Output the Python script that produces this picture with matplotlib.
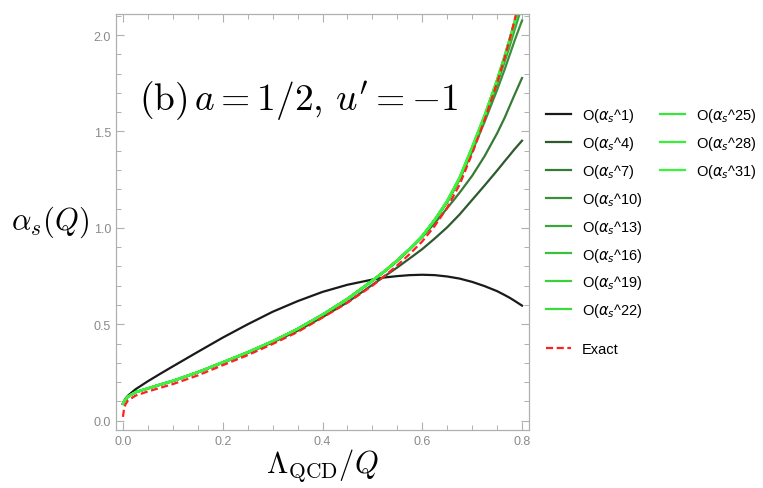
import numpy as np
import matplotlib
matplotlib.use('Agg')
import matplotlib.pyplot as plt
from matplotlib.font_manager import FontProperties
from matplotlib.ticker import MultipleLocator, FormatStrFormatter

# values
x = [0, 0.002, 0.005, 0.01, 0.025, 0.05, 0.075, 0.1, 0.15, 0.2, 0.25, 0.3, 0.35, 0.4, 0.45,
     0.5, 0.525, 0.55, 0.575, 0.6, 0.625, 0.65, 0.675, 0.7, 0.725, 0.75, 0.765, 0.775, 0.785, 0.8]

orders = [1, 4, 7, 10, 13, 16, 19, 22, 25, 28, 31]

# common low-x part of the higher orders (they overlap there)
pack_low = [0.088, 0.098, 0.110, 0.125, 0.148, 0.168, 0.188, 0.207, 0.252, 0.303, 0.355, 0.412,
            0.476, 0.550, 0.632]

a1 = [0.088, 0.100, 0.115, 0.130, 0.163, 0.205, 0.244, 0.282, 0.357, 0.431, 0.500, 0.565,
      0.620, 0.668, 0.705,
      0.732, 0.743, 0.750, 0.755, 0.757, 0.755, 0.748, 0.737, 0.720, 0.698, 0.672, 0.652,
      0.638, 0.622, 0.597]
a4 = [0.088, 0.097, 0.109, 0.124, 0.147, 0.167, 0.186, 0.205, 0.250, 0.300, 0.351, 0.406,
      0.466, 0.537, 0.614,
      0.705, 0.750, 0.795, 0.842, 0.890, 0.945, 1.003, 1.070, 1.145, 1.220, 1.297, 1.345,
      1.376, 1.408, 1.452]
a7 = pack_low + [0.724, 0.774, 0.828, 0.888, 0.952, 1.025, 1.102, 1.183, 1.270, 1.372, 1.490,
                 1.570, 1.630, 1.690, 1.777]
a10 = pack_low + [0.727, 0.777, 0.832, 0.892, 0.958, 1.040, 1.132, 1.250, 1.395, 1.550, 1.715,
                  1.820, 1.895, 1.970, 2.075]
a13 = pack_low + [0.727, 0.777, 0.832, 0.892, 0.958, 1.042, 1.135, 1.256, 1.408, 1.568, 1.745,
                  1.860, 1.940, 2.025, 2.150]
a16 = pack_low + [0.727, 0.777, 0.832, 0.892, 0.958, 1.042, 1.137, 1.258, 1.414, 1.577, 1.758,
                  1.878, 1.962, 2.050, 2.190]
a19 = pack_low + [0.727, 0.777, 0.832, 0.892, 0.958, 1.042, 1.138, 1.259, 1.415, 1.579, 1.761,
                  1.882, 1.968, 2.057, 2.198]
a22 = pack_low + [0.727, 0.777, 0.832, 0.892, 0.958, 1.042, 1.139, 1.260, 1.417, 1.581, 1.764,
                  1.886, 1.972, 2.062, 2.205]
a25 = pack_low + [0.727, 0.777, 0.832, 0.892, 0.958, 1.042, 1.140, 1.262, 1.419, 1.584, 1.768,
                  1.891, 1.978, 2.069, 2.214]
a28 = pack_low + [0.727, 0.777, 0.832, 0.892, 0.958, 1.042, 1.140, 1.262, 1.419, 1.584, 1.768,
                  1.891, 1.978, 2.069, 2.214]
a31 = pack_low + [0.727, 0.777, 0.832, 0.892, 0.958, 1.042, 1.140, 1.262, 1.419, 1.584, 1.768,
                  1.891, 1.978, 2.069, 2.214]
exact = [0.020, 0.060, 0.085, 0.105, 0.130, 0.152, 0.171, 0.190, 0.235, 0.288, 0.340, 0.398,
         0.460, 0.535, 0.612,
         0.700, 0.752, 0.806, 0.865, 0.930, 1.010, 1.105, 1.225, 1.385, 1.560, 1.752, 1.880,
         1.975, 2.075, 2.240]

series = [a1, a4, a7, a10, a13, a16, a19, a22, a25, a28, a31]
colors = ['#1a1a1a', '#2d5a2d', '#357a35', '#3a8f3a', '#3aa63a', '#3cc03c',
          '#3cd03c', '#3adb3a', '#3ae63a', '#3aef3a', '#3af53a']

fig = plt.figure(figsize=(7.63, 4.89), dpi=100)
ax = fig.add_axes([116 / 763, 1 - 431 / 489, 413 / 763, 416 / 489])

lines = []
for n, ys, c in zip(orders, series, colors):
    ln, = ax.plot(x, ys, color=c, lw=1.6, label=r'O($\alpha_s$^%d)' % n)
    lines.append(ln)
ex, = ax.plot(x, exact, color='#ff2020', lw=1.6, ls=(0, (3.2, 1.6)), label='Exact')

ax.set_xlim(-0.014, 0.814)
ax.set_ylim(-0.048, 2.109)

ax.xaxis.set_major_locator(MultipleLocator(0.2))
ax.xaxis.set_minor_locator(MultipleLocator(0.05))
ax.yaxis.set_major_locator(MultipleLocator(0.5))
ax.yaxis.set_minor_locator(MultipleLocator(0.1))
ax.xaxis.set_major_formatter(FormatStrFormatter('%.1f'))
ax.yaxis.set_major_formatter(FormatStrFormatter('%.1f'))
ax.tick_params(which='both', direction='in', top=True, right=True,
               color='#b0b0b0', labelcolor='#8a8a8a', labelsize=9)
ax.tick_params(which='major', length=6, width=0.8)
ax.tick_params(which='minor', length=3.5, width=0.7)
for lab in ax.get_xticklabels() + ax.get_yticklabels():
    lab.set_family('Liberation Sans')
for sp in ax.spines.values():
    sp.set_color('#b0b0b0')
    sp.set_linewidth(0.9)

ax.text(0.033, 1.66, r"$\mathrm{(b)}\,a=1/2,\,u'=-1$", fontsize=27,
        math_fontfamily='cm', va='center', ha='left')
fig.text(50 / 763, 1 - 222 / 489, r'$\alpha_s(Q)$', fontsize=22,
         math_fontfamily='cm', ha='center', va='center')
fig.text(322 / 763, 1 - 466 / 489, r'$\Lambda_{\mathrm{QCD}}/Q$', fontsize=22,
         math_fontfamily='cm', ha='center', va='center')

lp = FontProperties(family='Liberation Sans', size=10.5, math_fontfamily='dejavusans')
kw = dict(frameon=False, prop=lp, handlelength=1.7, handletextpad=0.75,
          labelspacing=0.68, borderaxespad=0, borderpad=0, loc='upper left')
fig.legend(handles=lines[:8], bbox_to_anchor=(546 / 763, 1 - 107 / 489), **kw)
fig.legend(handles=lines[8:], bbox_to_anchor=(660 / 763, 1 - 107 / 489), **kw)
fig.legend(handles=[ex], bbox_to_anchor=(546 / 763, 1 - 343 / 489), **kw)

fig.savefig('out.png', dpi=100)
